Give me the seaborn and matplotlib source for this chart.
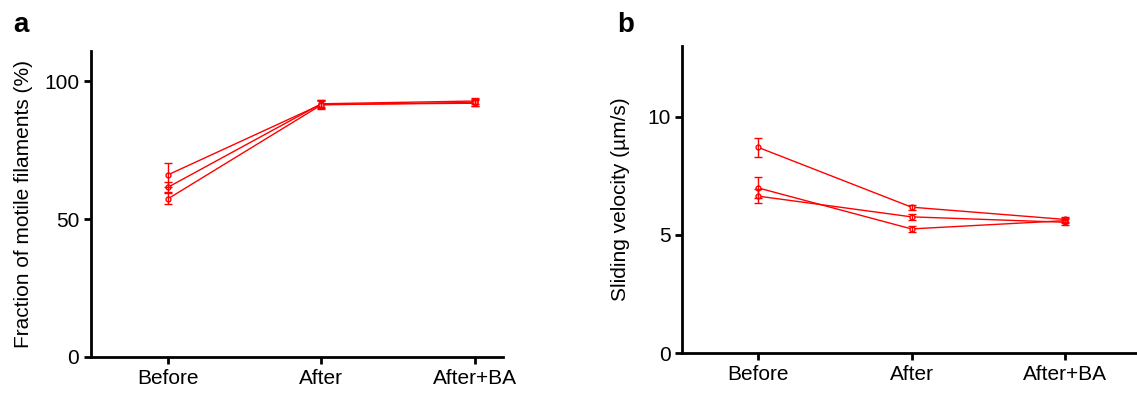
import numpy as np
import pandas as pd
import matplotlib
matplotlib.use("Agg")
import matplotlib.pyplot as plt
import seaborn as sns

conditions = ["Before", "After", "After+BA"]

# panel a: fraction of motile filaments (%), three experiments
frac_1 = [66.0, 91.6, 92.0]
frac_2 = [61.5, 91.8, 92.8]
frac_3 = [57.3, 91.4, 92.3]
frac_err_1 = [4.5, 1.5, 1.0]
frac_err_2 = [1.8, 1.2, 1.0]
frac_err_3 = [2.0, 1.5, 1.2]

# panel b: sliding velocity (um/s)
vel_1 = [8.71, 6.17, 5.65]
vel_2 = [6.99, 5.25, 5.60]
vel_3 = [6.64, 5.76, 5.53]
vel_err_1 = [0.40, 0.10, 0.12]
vel_err_2 = [0.45, 0.13, 0.12]
vel_err_3 = [0.30, 0.12, 0.12]

sns.set_style("ticks")
plt.rcParams['font.family'] = ['Liberation Sans', 'DejaVu Sans']
plt.rcParams['text.color'] = 'black'
plt.rcParams['axes.labelcolor'] = 'black'
red = "#ff0000"


def make_df(series, errs):
    rows = []
    for i, (vals, e) in enumerate(zip(series, errs)):
        for c, v, ee in zip(conditions, vals, e):
            rows.append({"cond": c, "val": v, "err": ee, "rep": i})
    return pd.DataFrame(rows)


def draw(ax, df):
    sns.lineplot(data=df, x="cond", y="val", units="rep", estimator=None,
                 color=red, lw=1.0, marker="o", markersize=3.5,
                 markerfacecolor="white", markeredgecolor=red,
                 markeredgewidth=1.0, ax=ax, sort=False)
    for rep, g in df.groupby("rep"):
        ax.errorbar(np.arange(len(g)), g["val"], yerr=g["err"], fmt="none",
                    ecolor=red, elinewidth=1.0, capsize=3, capthick=1.0)
    for s in ["top", "right"]:
        ax.spines[s].set_visible(False)
    for s in ["left", "bottom"]:
        ax.spines[s].set_linewidth(2)
        ax.spines[s].set_color("black")
    ax.tick_params(width=2, length=5, labelsize=15, colors="black")
    ax.set_xlabel("")


fig = plt.figure(figsize=(11.37, 3.94), dpi=100)
ax1 = fig.add_axes([0.080, 0.094, 0.362, 0.777])
ax2 = fig.add_axes([0.600, 0.104, 0.400, 0.780])

dfa = make_df([frac_1, frac_2, frac_3], [frac_err_1, frac_err_2, frac_err_3])
draw(ax1, dfa)
ax1.set_ylim(0, 111)
ax1.set_xlim(-0.5, 2.18)
ax1.set_yticks([0, 50, 100])
ax1.set_ylabel("Fraction of motile filaments (%)", fontsize=15, labelpad=8)

dfb = make_df([vel_1, vel_2, vel_3], [vel_err_1, vel_err_2, vel_err_3])
draw(ax2, dfb)
ax2.set_ylim(0, 13)
ax2.set_xlim(-0.49, 2.465)
ax2.set_yticks([0, 5, 10])
ax2.set_ylabel("Sliding velocity (\u00b5m/s)", fontsize=15, labelpad=12)

fig.text(0.012, 0.92, "a", fontsize=20, fontweight="bold")
fig.text(0.543, 0.92, "b", fontsize=20, fontweight="bold")

fig.savefig("out.png", dpi=100)
